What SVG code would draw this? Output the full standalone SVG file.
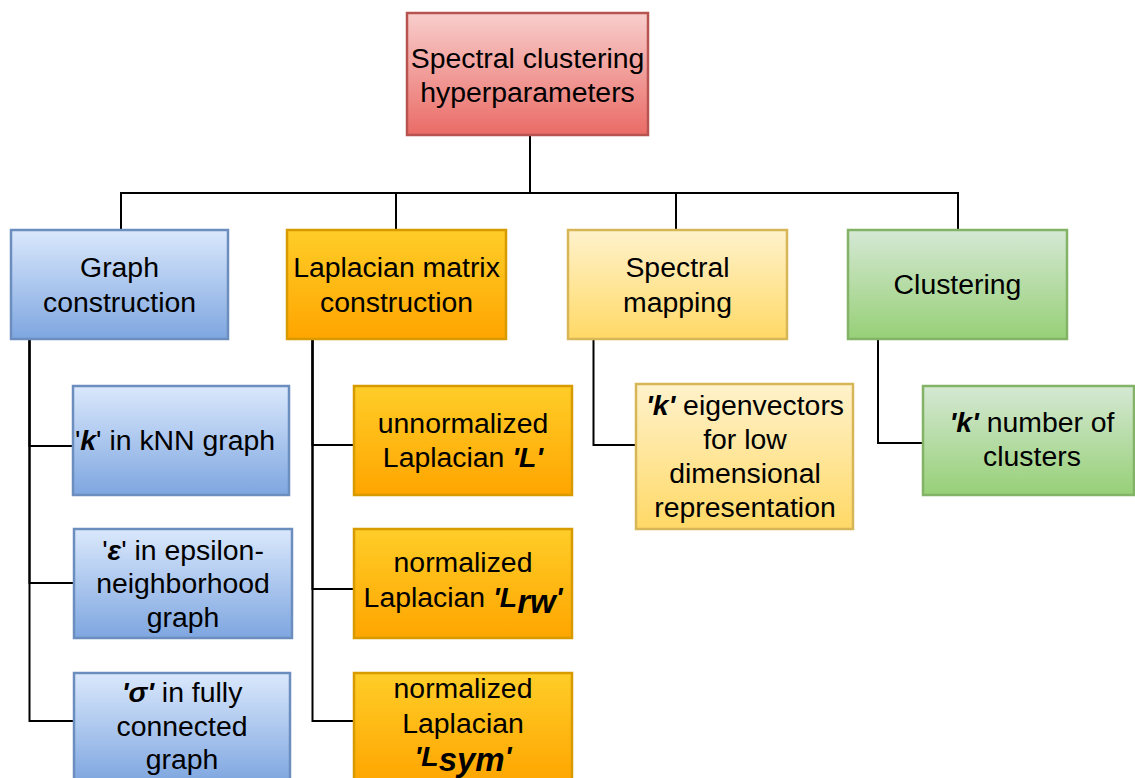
<svg xmlns="http://www.w3.org/2000/svg" width="1135" height="778" viewBox="0 0 1135 778">
  <defs>
    <linearGradient id="gRed" x1="0" y1="0" x2="0" y2="1">
      <stop offset="0" stop-color="#f8cecc"/>
      <stop offset="1" stop-color="#ea6b66"/>
    </linearGradient>
    <linearGradient id="gBlue" x1="0" y1="0" x2="0" y2="1">
      <stop offset="0" stop-color="#dae8fc"/>
      <stop offset="1" stop-color="#7ea6e0"/>
    </linearGradient>
    <linearGradient id="gOrange" x1="0" y1="0" x2="0" y2="1">
      <stop offset="0" stop-color="#ffcd28"/>
      <stop offset="1" stop-color="#ffa500"/>
    </linearGradient>
    <linearGradient id="gYellow" x1="0" y1="0" x2="0" y2="1">
      <stop offset="0" stop-color="#fff2cc"/>
      <stop offset="1" stop-color="#ffd966"/>
    </linearGradient>
    <linearGradient id="gGreen" x1="0" y1="0" x2="0" y2="1">
      <stop offset="0" stop-color="#d5e8d4"/>
      <stop offset="1" stop-color="#97d077"/>
    </linearGradient>
  </defs>
  <style>
    .red rect { fill: url(#gRed); stroke: #b85450; stroke-width: 2.5; }
    .blue rect { fill: url(#gBlue); stroke: #6c8ebf; stroke-width: 2.5; }
    .orange rect { fill: url(#gOrange); stroke: #d79b00; stroke-width: 2.5; }
    .yellow rect { fill: url(#gYellow); stroke: #d6b656; stroke-width: 2.5; }
    .green rect { fill: url(#gGreen); stroke: #82b366; stroke-width: 2.5; }
    text { font-family: "Liberation Sans", Arial, sans-serif; font-size: 28.4px; fill: #000; text-anchor: middle; }
    .bi { font-weight: bold; font-style: italic; }
    .sub { font-size: 33px; }
    #connectors path { fill: none; stroke: #000; stroke-width: 2; }
  </style>

  <g id="connectors">
    <path d="M530 135 V193 H121 V230"/>
    <path d="M530 135 V193 H396 V230"/>
    <path d="M530 135 V193 H676 V230"/>
    <path d="M530 135 V193 H958 V230"/>
    <path d="M29.5 339 V446 H73"/>
    <path d="M29.5 339 V583 H74"/>
    <path d="M29.5 339 V721 H74"/>
    <path d="M312.5 339 V445 H354"/>
    <path d="M312.5 339 V589 H354"/>
    <path d="M312.5 339 V721 H354"/>
    <path d="M593.5 339 V445 H636"/>
    <path d="M878 339 V443 H923"/>
  </g>

  <g id="root" class="red">
    <rect x="407" y="13" width="241" height="122"/>
    <text x="527.5" y="67.5">Spectral clustering</text>
    <text x="527.5" y="101.5">hyperparameters</text>
  </g>

  <g id="graph-construction" class="blue">
    <rect x="11" y="230" width="217" height="109"/>
    <text x="119.5" y="277">Graph</text>
    <text x="119.5" y="311.5">construction</text>
  </g>

  <g id="laplacian-construction" class="orange">
    <rect x="287" y="230" width="219" height="109"/>
    <text x="396.5" y="277">Laplacian matrix</text>
    <text x="396.5" y="311.5">construction</text>
  </g>

  <g id="spectral-mapping" class="yellow">
    <rect x="568" y="230" width="219" height="109"/>
    <text x="677.5" y="277">Spectral</text>
    <text x="677.5" y="311.5">mapping</text>
  </g>

  <g id="clustering" class="green">
    <rect x="848" y="230" width="219" height="109"/>
    <text x="957.5" y="294">Clustering</text>
  </g>

  <g id="knn-k" class="blue">
    <rect x="73" y="386" width="216" height="109"/>
    <text x="175" y="449.5">'<tspan class="bi">k</tspan>' in kNN graph</text>
  </g>

  <g id="epsilon" class="blue">
    <rect x="74" y="529" width="218" height="109"/>
    <text x="183" y="560">'<tspan class="bi">ε</tspan>' in epsilon-</text>
    <text x="183" y="593">neighborhood</text>
    <text x="183" y="627">graph</text>
  </g>

  <g id="sigma" class="blue">
    <rect x="74" y="673" width="216" height="110"/>
    <text x="182" y="702"><tspan class="bi">'σ'</tspan> in fully</text>
    <text x="182" y="736">connected</text>
    <text x="182" y="769">graph</text>
  </g>

  <g id="unnormalized" class="orange">
    <rect x="354" y="386" width="218" height="109"/>
    <text x="463" y="432.5">unnormalized</text>
    <text x="463" y="467">Laplacian <tspan class="bi">'L'</tspan></text>
  </g>

  <g id="normalized-rw" class="orange">
    <rect x="354" y="529" width="218" height="109"/>
    <text x="463" y="572">normalized</text>
    <text x="463" y="607">Laplacian <tspan class="bi">'L</tspan><tspan class="bi sub" dy="6">rw</tspan><tspan class="bi" dy="-6">'</tspan></text>
  </g>

  <g id="normalized-sym" class="orange">
    <rect x="354" y="673" width="218" height="110"/>
    <text x="463" y="698">normalized</text>
    <text x="463" y="733">Laplacian</text>
    <text x="463" y="766"><tspan class="bi">'L</tspan><tspan class="bi sub" dy="5">sym</tspan><tspan class="bi" dy="-5">'</tspan></text>
  </g>

  <g id="eigenvectors" class="yellow">
    <rect x="636" y="384" width="217" height="145"/>
    <text x="745" y="414.5"><tspan class="bi">'k'</tspan> eigenvectors</text>
    <text x="745" y="448.5">for low</text>
    <text x="745" y="483">dimensional</text>
    <text x="745" y="517">representation</text>
  </g>

  <g id="cluster-count" class="green">
    <rect x="923" y="386" width="211" height="109"/>
    <text x="1032" y="431.5"><tspan class="bi">'k'</tspan> number of</text>
    <text x="1032" y="466">clusters</text>
  </g>
</svg>
